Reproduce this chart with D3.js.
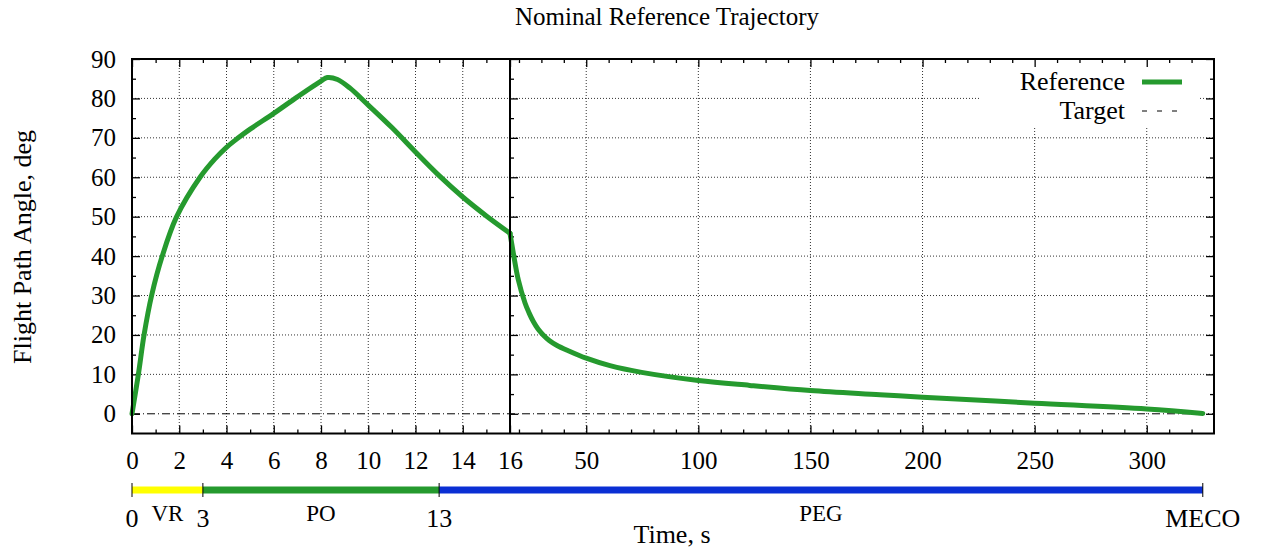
<!DOCTYPE html>
<html>
<head>
  <title>Nominal Reference Trajectory</title>
  <script src="https://d3js.org/d3.v7.min.js"></script>
  <style>
    body { margin: 0; background: #fff; }
    text { font-family: "Liberation Serif", "Times New Roman", serif; fill: #000; }
  </style>
</head>
<body>
  <svg width="1261" height="552"></svg>
  <script>
    // reference trajectory, pitch-over part (0-16 s, left panel)
    var earlyTime  = [0, 0.27, 0.51, 0.83, 1.28, 1.89, 2.88, 3.5, 4, 4.5, 5, 6, 7, 8, 8.27, 8.7, 9.23, 10, 11, 12, 13, 14, 15, 16];
    var earlyAngle = [0, 10, 20, 30, 40, 50, 60, 64.6, 67.6, 70.0, 72.2, 76.2, 80.4, 84.4, 85.3, 84.8, 82.6, 78.3, 72.6, 66.4, 60.4, 55.0, 50.2, 45.8];
    // guidance part (16 s to MECO, right panel)
    var lateTime  = [16, 17.5, 19.7, 22.7, 24.5, 26.4, 28.5, 30.8, 33.5, 36.8, 42, 50, 60.6, 74.7, 100, 122.9, 150, 181, 200, 250, 300, 325];
    var lateAngle = [45.8, 40.7, 34, 28.1, 25.6, 23.4, 21.5, 20.0, 18.6, 17.4, 16.0, 14.1, 12.2, 10.5, 8.45, 7.2, 5.9, 4.85, 4.2, 2.7, 1.2, 0.1];

    var targetTime  = [0, 330];
    var targetAngle = [0, 0];

    var phaseNames  = ["VR", "PO", "PEG"];
    var phaseStart  = [0, 3, 13];
    var phaseEnd    = [3, 13, 325];
    var phaseColors = ["#ffff00", "#259a2e", "#0a2fd4"];
    var eventTimes  = [0, 3, 13, 325];
    var eventLabels = ["0", "3", "13", "MECO"];

    var leftTicks  = d3.range(0, 17, 2);
    var rightTicks = [50, 100, 150, 200, 250, 300];
    var yTicks     = d3.range(0, 91, 10);

    var svg = d3.select("svg");
    var plotTop = 59, plotBottom = 433.5, plotLeft = 132, plotSplit = 510, plotRight = 1214;

    var xl = d3.scaleLinear().domain([0, 16]).range([plotLeft, plotSplit]);
    var xr = d3.scaleLinear().domain([16, 330]).range([plotSplit, plotRight]);
    var y  = d3.scaleLinear().domain([-5, 90]).range([plotBottom, plotTop]);
    function xPos(t) { return t <= 16 ? xl(t) : xr(t); }

    var green = "#259a2e";

    // grid
    var grid = svg.append("g").attr("stroke", "#333").attr("stroke-width", 1).attr("stroke-dasharray", "1,2");
    grid.selectAll(".gx").data(leftTicks.filter(function(d) { return d > 0 && d < 16; }))
      .enter().append("line")
      .attr("x1", function(d) { return xl(d); }).attr("x2", function(d) { return xl(d); })
      .attr("y1", plotTop).attr("y2", plotBottom);
    grid.selectAll(".gxr").data(rightTicks)
      .enter().append("line")
      .attr("x1", function(d) { return xr(d); }).attr("x2", function(d) { return xr(d); })
      .attr("y1", plotTop).attr("y2", plotBottom);
    grid.selectAll(".gy").data(yTicks.filter(function(d) { return d > 0 && d < 90; }))
      .enter().append("line")
      .attr("x1", plotLeft).attr("x2", plotRight)
      .attr("y1", function(d) { return y(d); }).attr("y2", function(d) { return y(d); });

    // legend box hides the grid
    svg.append("rect").attr("x", 979).attr("y", plotTop + 1).attr("width", 219).attr("height", 68).attr("fill", "#fff");

    // target line
    svg.append("path")
      .attr("d", d3.line().x(function(d) { return xPos(d[0]); }).y(function(d) { return y(d[1]); })(d3.zip(targetTime, targetAngle)))
      .attr("fill", "none").attr("stroke", "#000").attr("stroke-width", 1)
      .attr("stroke-dasharray", "8,3,1,3");

    // axes (ticks inward)
    function styleAxis(g) {
      g.select(".domain").remove();
      g.attr("font-family", "Liberation Serif, Times New Roman, serif").attr("font-size", 25);
      g.selectAll("line").attr("stroke-width", 1.3);
    }
    function minor(arr, majors) { return arr.filter(function(d) { return majors.indexOf(d) < 0; }); }

    var yMinor = minor(d3.range(5, 90, 5), yTicks);
    var lMinor = minor(d3.range(1, 16, 1), leftTicks);
    var rMinor = minor(d3.range(20, 330, 10), rightTicks);

    function hAxis(axis, ypos) {
      svg.append("g").attr("transform", "translate(0," + ypos + ")").call(axis).call(styleAxis);
    }
    function vAxis(axis, xpos) {
      svg.append("g").attr("transform", "translate(" + xpos + ",0)").call(axis).call(styleAxis);
    }

    hAxis(d3.axisBottom(xl).tickValues(leftTicks).tickSize(-8).tickPadding(18), plotBottom);
    hAxis(d3.axisBottom(xl).tickValues(lMinor).tickSize(-4).tickFormat(""), plotBottom);
    hAxis(d3.axisBottom(xr).tickValues(rightTicks).tickSize(-8).tickPadding(18), plotBottom);
    hAxis(d3.axisBottom(xr).tickValues(rMinor).tickSize(-4).tickFormat(""), plotBottom);

    hAxis(d3.axisTop(xl).tickValues(leftTicks).tickSize(-8).tickFormat(""), plotTop);
    hAxis(d3.axisTop(xl).tickValues(lMinor).tickSize(-4).tickFormat(""), plotTop);
    hAxis(d3.axisTop(xr).tickValues(rightTicks).tickSize(-8).tickFormat(""), plotTop);
    hAxis(d3.axisTop(xr).tickValues(rMinor).tickSize(-4).tickFormat(""), plotTop);

    vAxis(d3.axisLeft(y).tickValues(yTicks).tickSize(-8).tickPadding(16), plotLeft);
    vAxis(d3.axisLeft(y).tickValues(yMinor).tickSize(-4).tickFormat(""), plotLeft);
    vAxis(d3.axisRight(y).tickValues(yTicks).tickSize(8).tickFormat(""), plotSplit);
    vAxis(d3.axisRight(y).tickValues(yMinor).tickSize(4).tickFormat(""), plotSplit);
    vAxis(d3.axisRight(y).tickValues(yTicks).tickSize(-8).tickFormat(""), plotRight);
    vAxis(d3.axisRight(y).tickValues(yMinor).tickSize(-4).tickFormat(""), plotRight);

    // reference curve
    var line = d3.line()
      .x(function(d) { return xPos(d[0]); })
      .y(function(d) { return y(d[1]); })
      .curve(d3.curveCatmullRom.alpha(0.5));
    [d3.zip(earlyTime, earlyAngle), d3.zip(lateTime, lateAngle)].forEach(function(seg) {
      svg.append("path").attr("d", line(seg))
        .attr("fill", "none").attr("stroke", green).attr("stroke-width", 5)
        .attr("stroke-linejoin", "round").attr("stroke-linecap", "round");
    });

    // frame and split line
    svg.append("rect").attr("x", plotLeft).attr("y", plotTop)
      .attr("width", plotRight - plotLeft).attr("height", plotBottom - plotTop)
      .attr("fill", "none").attr("stroke", "#000").attr("stroke-width", 2);
    svg.append("line").attr("x1", plotSplit).attr("x2", plotSplit).attr("y1", plotTop).attr("y2", plotBottom)
      .attr("stroke", "#000").attr("stroke-width", 2);

    // legend
    svg.append("text").attr("x", 1125).attr("y", 90).attr("text-anchor", "end").attr("font-size", 26).text("Reference");
    svg.append("line").attr("x1", 1142).attr("x2", 1182).attr("y1", 82).attr("y2", 82)
      .attr("stroke", green).attr("stroke-width", 5);
    svg.append("text").attr("x", 1125).attr("y", 119).attr("text-anchor", "end").attr("font-size", 26).text("Target");
    svg.append("line").attr("x1", 1142).attr("x2", 1182).attr("y1", 111).attr("y2", 111)
      .attr("stroke", "#000").attr("stroke-width", 1).attr("stroke-dasharray", "5,10");

    // phase bar
    var barY = 490;
    svg.selectAll(".phase").data(phaseNames).enter().append("line")
      .attr("x1", function(d, i) { return xPos(phaseStart[i]); })
      .attr("x2", function(d, i) { return xPos(phaseEnd[i]); })
      .attr("y1", barY).attr("y2", barY)
      .attr("stroke", function(d, i) { return phaseColors[i]; }).attr("stroke-width", 7);
    svg.selectAll(".phaseLabel").data(phaseNames).enter().append("text")
      .attr("x", function(d, i) { return (xPos(phaseStart[i]) + xPos(phaseEnd[i])) / 2; })
      .attr("y", 521).attr("text-anchor", "middle").attr("font-size", 23)
      .text(function(d) { return d; });
    svg.selectAll(".event").data(eventTimes).enter().append("line")
      .attr("x1", function(d) { return xPos(d); }).attr("x2", function(d) { return xPos(d); })
      .attr("y1", 483).attr("y2", 497).attr("stroke", "#000").attr("stroke-width", 1);
    svg.selectAll(".eventLabel").data(eventTimes).enter().append("text")
      .attr("x", function(d) { return xPos(d); }).attr("y", 527)
      .attr("text-anchor", "middle").attr("font-size", 26)
      .text(function(d, i) { return eventLabels[i]; });

    // titles
    svg.append("text").attr("x", 667).attr("y", 25).attr("text-anchor", "middle").attr("font-size", 25)
      .text("Nominal Reference Trajectory");
    svg.append("text").attr("transform", "translate(31,247) rotate(-90)").attr("text-anchor", "middle")
      .attr("font-size", 26).text("Flight Path Angle, deg");
    svg.append("text").attr("x", 672).attr("y", 543).attr("text-anchor", "middle").attr("font-size", 26)
      .text("Time, s");
  </script>
</body>
</html>
